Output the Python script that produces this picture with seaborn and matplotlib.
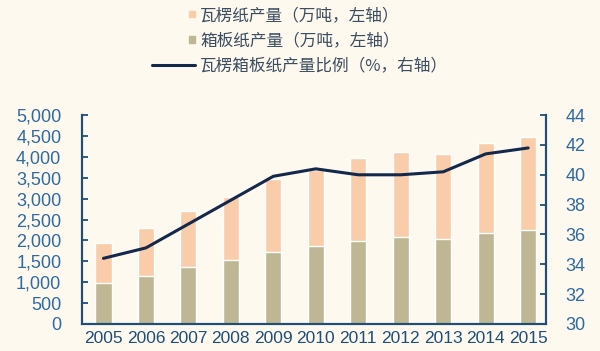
import numpy as np
import seaborn as sns
import matplotlib
matplotlib.use("Agg")
from matplotlib import pyplot as plt
import matplotlib.patches as mpatches
from matplotlib.lines import Line2D
from matplotlib.legend_handler import HandlerPatch
from matplotlib.ticker import FuncFormatter, MultipleLocator, FixedLocator

years = ["2005", "2006", "2007", "2008", "2009", "2010", "2011", "2012", "2013", "2014", "2015"]
corrugated = [1930, 2290, 2700, 3040, 3470, 3680, 3970, 4110, 4070, 4330, 4470]
boxboard = [980, 1150, 1360, 1530, 1720, 1870, 1990, 2080, 2030, 2180, 2250]
ratio = [34.4, 35.1, 36.7, 38.3, 39.9, 40.4, 40.0, 40.0, 40.2, 41.4, 41.8]

labels = ["瓦楞纸产量（万吨，左轴）", "箱板纸产量（万吨，左轴）", "瓦楞箱板纸产量比例（%，右轴）"]

bg = "#fdf9ef"
peach = "#f9cda9"
olive = "#bfb793"
navy = "#14284b"
axis_blue = "#1f4e79"
tick_blue = "#2f6aa0"

sns.set_style("white")
plt.rcParams['font.family'] = ['Liberation Sans', 'Noto Sans CJK SC']

fig = plt.figure(figsize=(6, 3.51), dpi=100, facecolor=bg)
ax = fig.add_axes([0.137, 0.077, 0.773, 0.595])
ax.set_facecolor(bg)

sns.barplot(x=years, y=corrugated, color=peach, width=0.38, ax=ax, saturation=1)
sns.barplot(x=years, y=boxboard, color=olive, width=0.38, ax=ax, saturation=1)

ax.set_ylim(0, 5000)
ax.set_xlim(-0.5, 10.42)
ax.yaxis.set_major_locator(MultipleLocator(500))
ax.yaxis.set_major_formatter(FuncFormatter(lambda v, p: f"{int(v):,}"))
ax.xaxis.set_minor_locator(FixedLocator(np.arange(0.5, 10, 1)))
ax.tick_params(axis="x", which="major", length=0, labelsize=12.5, labelcolor=axis_blue, pad=5)
ax.tick_params(axis="x", which="minor", direction="in", length=4, width=1.3, color=axis_blue)
ax.tick_params(axis="y", direction="in", length=4, width=1.3, color=axis_blue,
               labelsize=13, labelcolor=tick_blue, pad=15)
ax.set_xlabel("")
ax.set_ylabel("")

ax2 = ax.twinx()
sns.lineplot(x=np.arange(len(years)), y=ratio, color=navy, linewidth=2.2, ax=ax2)
ax2.set_ylim(30, 44)
ax2.yaxis.set_major_locator(MultipleLocator(2))
ax2.tick_params(axis="y", direction="in", length=4, width=1.3, color=axis_blue,
                labelsize=13, labelcolor=tick_blue, pad=14)
ax2.set_xlim(-0.5, 10.42)

for a in (ax, ax2):
    a.spines["top"].set_visible(False)
    for s in ("left", "right", "bottom"):
        a.spines[s].set_color(axis_blue)
        a.spines[s].set_linewidth(1.5)

def small_square(legend, orig_handle, xdescent, ydescent, width, height, fontsize):
    s = height * 0.55
    return mpatches.Rectangle((-xdescent + width - s, -ydescent + (height - s) / 2), s, s)

handles = [mpatches.Patch(color=peach), mpatches.Patch(color=olive),
           Line2D([0], [0], color=navy, linewidth=2.2)]
fig.legend(handles, labels, loc="upper left", bbox_to_anchor=(0.253, 0.98),
           frameon=False, borderpad=0, borderaxespad=0, handlelength=2.6,
           handletextpad=0.3, labelspacing=0.5, labelcolor="#3d4d60",
           prop={"family": ["Noto Sans CJK SC"], "size": 12},
           handler_map={mpatches.Patch: HandlerPatch(patch_func=small_square)})

fig.savefig("out.png", dpi=100, facecolor=bg)
